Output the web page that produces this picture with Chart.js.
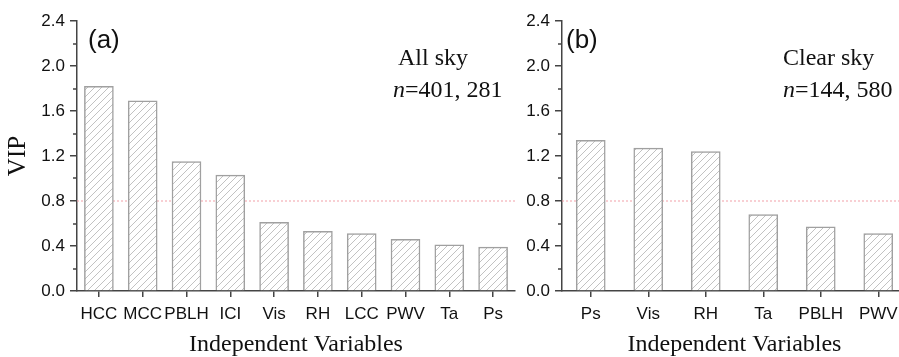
<!DOCTYPE html>
<html>
<head>
<meta charset="utf-8">
<script src="https://cdn.jsdelivr.net/npm/chart.js@4.4.1/dist/chart.umd.min.js"></script>
<style>
  html, body { margin: 0; padding: 0; background: #fff; overflow: hidden; }
  #wrap { position: relative; width: 899px; height: 357px; overflow: hidden; }
  #wrap canvas { position: absolute; top: 0; }
</style>
</head>
<body>
<div id="wrap">
  <canvas id="chart-a" width="540" height="357" style="left:0"></canvas>
  <canvas id="chart-b" width="460" height="357" style="left:470px"></canvas>
</div>
<script>
// (a) all sky
const varsAll = ['HCC', 'MCC', 'PBLH', 'ICI', 'Vis', 'RH', 'LCC', 'PWV', 'Ta', 'Ps'];
const vipAll = [1.82, 1.69, 1.15, 1.03, 0.61, 0.53, 0.51, 0.46, 0.41, 0.39];

// (b) clear sky
const varsClear = ['Ps', 'Vis', 'RH', 'Ta', 'PBLH', 'PWV'];
const vipClear = [1.34, 1.27, 1.24, 0.68, 0.57, 0.51];

const yMin = 0;
const yMax = 2.4;
const yStep = 0.4;
const vipThreshold = 0.8;

const SANS = "'Liberation Sans', Arial, sans-serif";
const SERIF = "'Liberation Serif', 'Times New Roman', serif";
const AXIS = '#444';

function hatchPattern() {
    const size = 7;
    const c = document.createElement('canvas');
    c.width = size;
    c.height = size;
    const g = c.getContext('2d');
    g.fillStyle = '#fff';
    g.fillRect(0, 0, size, size);
    g.strokeStyle = '#c2c2c2';
    g.lineWidth = 1;
    g.beginPath();
    g.moveTo(-1, size + 1); g.lineTo(size + 1, -1);
    g.moveTo(-1, 1); g.lineTo(1, -1);
    g.moveTo(size - 1, size + 1); g.lineTo(size + 1, size - 1);
    g.stroke();
    return g.createPattern(c, 'repeat');
}

// threshold line, minor ticks and the panel notes
const extras = {
    id: 'extras',
    beforeDatasetsDraw(chart) {
        const { ctx, chartArea, scales } = chart;
        const y = scales.y.getPixelForValue(vipThreshold);
        ctx.save();
        ctx.strokeStyle = '#f2a0a8';
        ctx.lineWidth = 1;
        ctx.setLineDash([2, 2]);
        ctx.beginPath();
        ctx.moveTo(chartArea.left, y);
        ctx.lineTo(chartArea.right, y);
        ctx.stroke();
        ctx.restore();
    },
    afterDraw(chart, args, opts) {
        const { ctx, chartArea, scales } = chart;
        const ys = scales.y;
        const ticks = ys.ticks.map(t => t.value);
        ctx.save();
        ctx.strokeStyle = AXIS;
        ctx.lineWidth = 1.5;
        ctx.beginPath();
        for (let i = 0; i < ticks.length - 1; i++) {
            const py = Math.round(ys.getPixelForValue((ticks[i] + ticks[i + 1]) / 2));
            ctx.moveTo(ys.right - 4, py);
            ctx.lineTo(ys.right, py);
        }
        ctx.stroke();

        ctx.fillStyle = '#111';
        ctx.textBaseline = 'alphabetic';
        ctx.textAlign = 'left';
        ctx.font = '26px ' + SANS;
        ctx.fillText(opts.panel, chartArea.left + opts.panelDx, 48);

        ctx.font = '24px ' + SERIF;
        ctx.fillText(opts.sky, chartArea.left + opts.skyDx, 65);

        let x = chartArea.left + opts.nDx;
        ctx.font = 'italic 24px ' + SERIF;
        ctx.fillText('n', x, 97);
        x += ctx.measureText('n').width;
        ctx.font = '24px ' + SERIF;
        ctx.fillText('=' + opts.n, x, 97);
        ctx.restore();
    }
};

function makeChart(id, labels, values, cfg) {
    const ctx = document.getElementById(id).getContext('2d');
    return new Chart(ctx, {
        type: 'bar',
        data: {
            labels: labels,
            datasets: [{
                data: values,
                backgroundColor: hatchPattern(),
                borderColor: '#a0a0a0',
                borderWidth: 1.5,
                barThickness: 29
            }]
        },
        options: {
            responsive: false,
            animation: false,
            layout: { padding: { top: 21, right: cfg.padRight, bottom: 0, left: 0 } },
            scales: {
                x: {
                    offset: true,
                    grid: {
                        display: true,
                        drawOnChartArea: false,
                        offset: false,
                        color: AXIS,
                        lineWidth: 1.5,
                        tickLength: 6
                    },
                    border: { color: AXIS, width: 1.5 },
                    ticks: {
                        color: '#111',
                        font: { family: SANS, size: 17 },
                        padding: 7,
                        autoSkip: false,
                        maxRotation: 0
                    },
                    title: {
                        display: true,
                        text: 'Independent Variables',
                        color: '#111',
                        font: { family: SERIF, size: 24 },
                        padding: { top: 0, bottom: -2 }
                    },
                    afterFit(scale) { scale.height = 66; }
                },
                y: {
                    min: yMin,
                    max: yMax,
                    grid: {
                        drawOnChartArea: false,
                        color: AXIS,
                        lineWidth: 1.5,
                        tickLength: 7
                    },
                    border: { color: AXIS, width: 1.5 },
                    ticks: {
                        stepSize: yStep,
                        color: '#111',
                        font: { family: SANS, size: 17 },
                        padding: 5,
                        callback: v => Number(v).toFixed(1)
                    },
                    title: {
                        display: cfg.yTitle !== '',
                        text: cfg.yTitle,
                        color: '#111',
                        font: { family: SERIF, size: 25 },
                        padding: { top: 3, bottom: 0 }
                    },
                    afterFit(scale) { scale.width = cfg.yWidth; }
                }
            },
            plugins: {
                legend: { display: false },
                tooltip: { enabled: false },
                extras: cfg.notes
            }
        },
        plugins: [extras]
    });
}

makeChart('chart-a', varsAll, vipAll, {
    yTitle: 'VIP',
    yWidth: 77,
    padRight: 25,
    notes: { panel: '(a)', panelDx: 11, sky: 'All sky', skyDx: 321, n: '401, 281', nDx: 316 }
});

makeChart('chart-b', varsClear, vipClear, {
    yTitle: '',
    yWidth: 92,
    padRight: 23,
    notes: { panel: '(b)', panelDx: 4, sky: 'Clear sky', skyDx: 221, n: '144, 580', nDx: 221 }
});
</script>
</body>
</html>
